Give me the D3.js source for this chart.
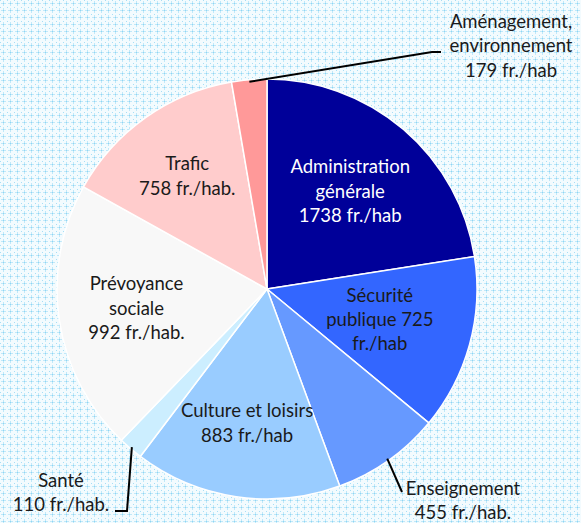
<!DOCTYPE html>
<html>
<head>
<meta charset="utf-8">
<script src="https://cdn.jsdelivr.net/npm/d3@7"></script>
<style>
  body { margin: 0; background: #fff; }
  svg { display: block; font-family: Lato, "Open Sans", sans-serif; }
</style>
</head>
<body>
<svg id="chart"></svg>
<script>
// slice sizes (angles), label texts as printed on it
const categories = ["Administration générale", "Sécurité publique", "Enseignement", "Culture et loisirs",
  "Santé", "Prévoyance sociale", "Trafic", "Aménagement, environnement"]
const values = [1217, 728, 452, 861, 102, 1128, 768, 146]
const labels = [
  ["Administration", "générale", "1738 fr./hab"],
  ["Sécurité", "publique 725", "fr./hab"],
  ["Enseignement", "455 fr./hab."],
  ["Culture et loisirs", "883 fr./hab"],
  ["Santé", "110 fr./hab."],
  ["Prévoyance", "sociale", "992 fr./hab."],
  ["Trafic", "758 fr./hab."],
  ["Aménagement,", "environnement", "179 fr./hab"]
]
const colors = ["#000099", "#3366ff", "#6699ff", "#99ccff", "#cceeff", "#f8f8f8", "#ffcccc", "#ff9999"]

const width = 581, height = 523
const cx = 267, cy = 289, radius = 210

const svg = d3.select("#chart")
  .attr("width", width)
  .attr("height", height)

// dotted light-blue background
const pat = svg.append("defs").append("pattern")
  .attr("id", "bg")
  .attr("width", 7).attr("height", 7)
  .attr("patternUnits", "userSpaceOnUse")
pat.append("rect").attr("width", 7).attr("height", 7).attr("fill", "#f3fbfe")
pat.append("rect").attr("x", 3).attr("y", 1).attr("width", 1).attr("height", 5).attr("fill", "#bfe8f9")
pat.append("rect").attr("x", 1).attr("y", 3).attr("width", 5).attr("height", 1).attr("fill", "#bfe8f9")
pat.append("rect").attr("x", 0).attr("y", 0).attr("width", 1).attr("height", 1).attr("fill", "#a6def6")
pat.append("rect").attr("x", 3).attr("y", 3).attr("width", 1).attr("height", 1).attr("fill", "#8fd5f3")

svg.append("rect")
  .attr("width", width).attr("height", height)
  .attr("fill", "url(#bg)")

const pie = d3.pie().sort(null).value(d => d).startAngle(0).endAngle(2 * Math.PI)
const arcs = pie(values)

const arc = d3.arc().innerRadius(0).outerRadius(radius)
const edgeArc = d3.arc().innerRadius(radius - 2).outerRadius(radius - 2)
// distance of each inside label from the centre
const labelRadius = [128, 117, 0, 136, 0, 132, 138, 0]

const g = svg.append("g").attr("transform", `translate(${cx},${cy})`)

g.selectAll("path.slice")
  .data(arcs)
  .enter().append("path")
  .attr("class", "slice")
  .attr("d", arc)
  .attr("fill", (d, i) => colors[i])
  .attr("stroke", "#fff")
  .attr("stroke-width", 1.5)

// labels: inside slices for the big ones, outside with leader lines for the small ones
const outside = {
  2: { x: 463, y: 495, line: [[402, 492]] },
  4: { x: 61, y: 487, line: [[127, 511], [115, 511]] },
  7: { x: 511, y: 28, line: [[432, 52], [441, 52]] }
}
const lineH = 24.3

arcs.forEach((d, i) => {
  const lines = labels[i]
  let x, y0
  if (outside[i]) {
    const o = outside[i]
    x = o.x - cx
    y0 = o.y - cy
    const start = edgeArc.centroid(d)
    const pts = [start].concat(o.line.map(p => [p[0] - cx, p[1] - cy]))
    g.append("path")
      .attr("d", d3.line()(pts))
      .attr("fill", "none")
      .attr("stroke", "#000")
      .attr("stroke-width", 2)
  } else {
    const c = d3.arc().innerRadius(labelRadius[i]).outerRadius(labelRadius[i]).centroid(d)
    x = c[0]
    y0 = c[1] - (lines.length - 1) * lineH / 2 + 6
  }
  const t = g.append("text")
    .attr("text-anchor", "middle")
    .attr("font-size", 18.5)
    .attr("fill", i === 0 ? "#fff" : "#1a1a1a")
  lines.forEach((s, j) => {
    t.append("tspan").attr("x", x).attr("y", y0 + j * lineH).text(s)
  })
})
</script>
</body>
</html>
